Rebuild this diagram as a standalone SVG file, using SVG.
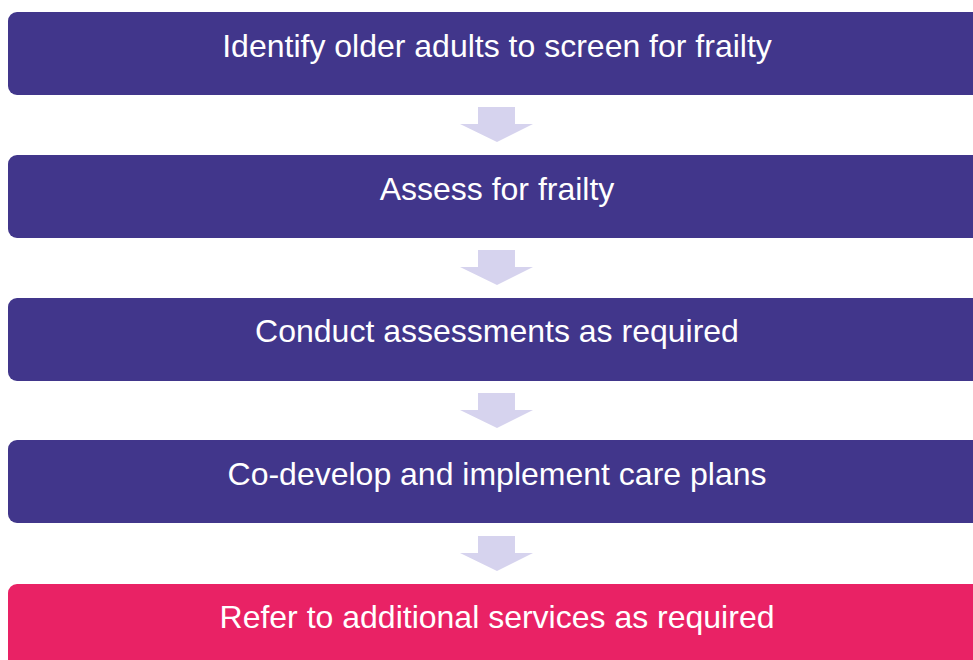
<svg xmlns="http://www.w3.org/2000/svg" width="973" height="660" viewBox="0 0 973 660">
  <defs>
    <style>
      .step { fill: #41368B; }
      .step.last { fill: #E92265; }
      .label { font-family: "Liberation Sans", Arial, sans-serif; font-size: 32px; fill: #FFFFFF; text-anchor: middle; }
      .arrow { fill: #D6D3EE; }
    </style>
  </defs>
  <rect width="973" height="660" fill="#FFFFFF"/>

  <g id="step1">
    <rect class="step" x="8" y="12" width="1000" height="83" rx="9"/>
    <text class="label" x="497" y="57">Identify older adults to screen for frailty</text>
  </g>
  <g id="step2">
    <rect class="step" x="8" y="155" width="1000" height="83" rx="9"/>
    <text class="label" x="497" y="200">Assess for frailty</text>
  </g>
  <g id="step3">
    <rect class="step" x="8" y="298" width="1000" height="83" rx="9"/>
    <text class="label" x="497" y="342">Conduct assessments as required</text>
  </g>
  <g id="step4">
    <rect class="step" x="8" y="440" width="1000" height="83" rx="9"/>
    <text class="label" x="497" y="485">Co-develop and implement care plans</text>
  </g>
  <g id="step5">
    <rect class="step last" x="8" y="584" width="1000" height="100" rx="9"/>
    <text class="label" x="497" y="628">Refer to additional services as required</text>
  </g>

  <g id="connectors">
    <polygon class="arrow" points="478,107 515,107 515,124 533,124 497,142 460,124 478,124"/>
    <polygon class="arrow" points="478,250 515,250 515,267 533,267 497,285 460,267 478,267"/>
    <polygon class="arrow" points="478,393 515,393 515,410 533,410 497,428 460,410 478,410"/>
    <polygon class="arrow" points="478,536 515,536 515,553 533,553 497,571 460,553 478,553"/>
  </g>
</svg>
